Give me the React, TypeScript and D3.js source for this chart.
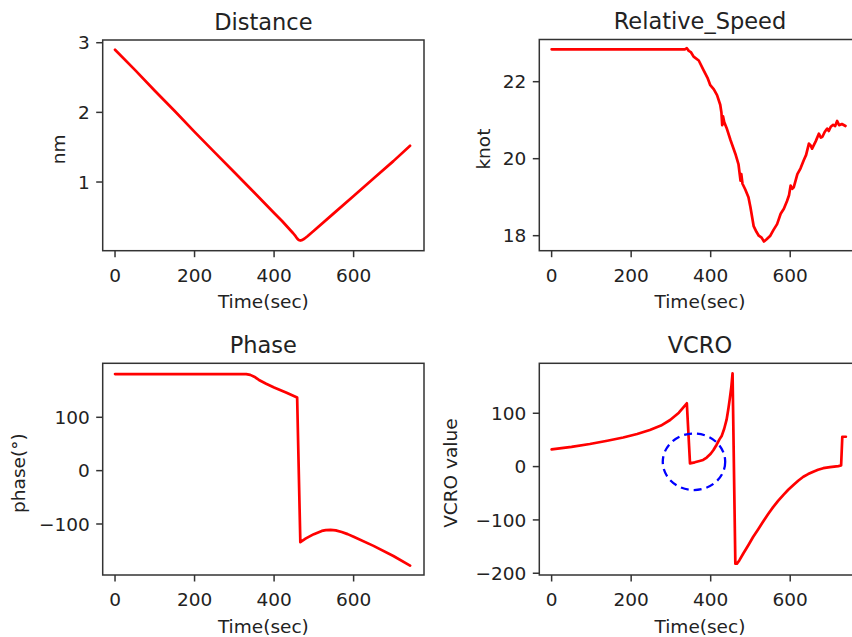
import React from "react";
import * as d3 from "d3";

// ---- data ----
const distTime = [0, 50, 100, 150, 200, 250, 300, 350, 400, 420, 440, 448, 454, 458, 462, 466, 470, 476, 484, 492, 500, 550, 600, 650, 700, 742];
const distValue = [2.9, 2.61, 2.31, 2.02, 1.72, 1.43, 1.14, 0.85, 0.556, 0.44, 0.315, 0.265, 0.222, 0.19, 0.168, 0.16, 0.165, 0.185, 0.222, 0.262, 0.3, 0.55, 0.8, 1.05, 1.3, 1.52];

const speedTime = [0, 100, 200, 300, 323, 335, 340, 345, 350, 357, 370, 382, 392, 399, 408, 416, 424, 427, 429, 431, 434, 440, 450, 462, 470, 475, 477, 480, 487, 495, 500, 508, 515, 521, 528, 534, 540, 550, 558, 567, 576, 584, 592, 597, 601, 605, 609, 618, 626, 634, 640, 647, 651, 655, 664, 672, 677, 681, 687, 693, 697, 702, 708, 713, 718, 723, 730, 739];
const speedValue = [22.84, 22.84, 22.84, 22.84, 22.84, 22.84, 22.87, 22.8, 22.77, 22.65, 22.55, 22.3, 22.1, 21.91, 21.8, 21.65, 21.4, 21.2, 20.87, 21.1, 20.95, 20.8, 20.48, 20.13, 19.85, 19.43, 19.6, 19.35, 19.2, 19.0, 18.74, 18.25, 18.1, 18.0, 17.95, 17.85, 17.9, 18.0, 18.15, 18.3, 18.57, 18.7, 18.9, 19.05, 19.3, 19.22, 19.26, 19.6, 19.75, 19.96, 20.1, 20.39, 20.35, 20.26, 20.45, 20.65, 20.55, 20.57, 20.7, 20.78, 20.72, 20.83, 20.88, 20.85, 20.98, 20.87, 20.9, 20.85];

const phaseTime = [0, 100, 200, 300, 330, 340, 350, 362, 380, 400, 430, 458, 466, 480, 500, 520, 530, 542, 555, 570, 585, 600, 650, 700, 742];
const phaseValue = [181, 181, 181, 181, 181, 179.5, 176, 170, 163, 156, 146.5, 137, -134, -127, -119, -113, -111.5, -111, -112, -115, -119, -124, -141, -160, -178];

const vcroTime = [0, 50, 96, 140, 180, 215, 247, 275, 298, 320, 340, 348, 360, 372, 381, 390, 400, 407, 415, 422, 428, 434, 440, 444, 448, 452, 455, 462, 466, 472, 482, 495, 507, 520, 532, 545, 557, 570, 583, 595, 608, 620, 633, 645, 658, 670, 683, 700, 721, 728, 731, 740];
const vcroValue = [32.4, 37, 42.4, 48.5, 54.5, 61, 68.7, 77, 87.4, 101, 118.7, 6, 8, 10.5, 12.5, 17, 24, 31, 41, 51, 58, 71, 88, 106, 127, 150, 175, -182, -182, -176, -163, -147, -131.5, -117, -103, -88.5, -76, -64, -53, -43.5, -34.5, -26.5, -19, -14, -9.5, -6, -3, -1, 1, 2, 56, 56];

const xTicks = [0, 200, 400, 600];
const distTicks = [1, 2, 3];
const speedTicks = [18, 20, 22];
const phaseTicks = [-100, 0, 100];
const vcroTicks = [-200, -100, 0, 100];

// highlighted region (data coords): center x, center y, radius x, radius y
const circleCenter = [358, 9];
const circleRadius = [78.5, 53];

const FONT = "DejaVu Sans, Verdana, sans-serif";
const TXT = "#222";
const fmt = (v: number) => (v < 0 ? "\u2212" + Math.abs(v) : String(v));

type PanelProps = {
  left: number;
  top: number;
  right: number;
  bottom: number;
  xDomain: [number, number];
  yDomain: [number, number];
  xs: number[];
  ys: number[];
  yTicks: number[];
  title: string;
  ylabel: string;
  ylabelX: number;
  children?: (x: d3.ScaleLinear<number, number>, y: d3.ScaleLinear<number, number>) => React.ReactNode;
};

function Panel(p: PanelProps) {
  const x = d3.scaleLinear().domain(p.xDomain).range([p.left, p.right]);
  const y = d3.scaleLinear().domain(p.yDomain).range([p.bottom, p.top]);
  const pts = p.xs.map((t, i) => [t, p.ys[i]] as [number, number]);
  const line = d3
    .line<[number, number]>()
    .x((d) => x(d[0]))
    .y((d) => y(d[1]))(pts);
  const cx = (p.left + p.right) / 2;
  const cy = (p.top + p.bottom) / 2;
  return (
    <g>
      <path d={line || ""} fill="none" stroke="#ff0000" strokeWidth={2.7} strokeLinejoin="round" strokeLinecap="round" />
      {p.children ? p.children(x, y) : null}
      <rect x={p.left} y={p.top} width={p.right - p.left} height={p.bottom - p.top} fill="none" stroke="#333" strokeWidth={1.5} />
      {xTicks.map((t) => (
        <g key={"x" + t}>
          <line x1={x(t)} x2={x(t)} y1={p.bottom} y2={p.bottom + 6.5} stroke="#333" strokeWidth={1.5} />
          <text x={x(t)} y={p.bottom + 31} textAnchor="middle" fontFamily={FONT} fontSize={18.5} fill={TXT}>
            {fmt(t)}
          </text>
        </g>
      ))}
      {p.yTicks.map((t) => (
        <g key={"y" + t}>
          <line x1={p.left - 6.5} x2={p.left} y1={y(t)} y2={y(t)} stroke="#333" strokeWidth={1.5} />
          <text x={p.left - 13} y={y(t)} dy="0.36em" textAnchor="end" fontFamily={FONT} fontSize={18.5} fill={TXT}>
            {fmt(t)}
          </text>
        </g>
      ))}
      <text x={cx} y={p.top - 10.5} textAnchor="middle" fontFamily={FONT} fontSize={22.5} fill={TXT}>
        {p.title}
      </text>
      <text x={cx} y={p.bottom + 57.5} textAnchor="middle" fontFamily={FONT} fontSize={18.5} fill={TXT}>
        Time(sec)
      </text>
      <text
        transform={`translate(${p.ylabelX},${cy + 4}) rotate(-90)`}
        textAnchor="middle"
        fontFamily={FONT}
        fontSize={18.5}
        fill={TXT}
      >
        {p.ylabel}
      </text>
    </g>
  );
}

export default function App() {
  const xDomain: [number, number] = [-31, 777];
  return (
    <svg
      width={852}
      height={637}
      style={{ position: "absolute", left: 0, top: 0, background: "#fff" }}
    >
      <rect x={0} y={0} width={852} height={637} fill="#fff" />
      <Panel
        left={102.7}
        right={424}
        top={40}
        bottom={250.7}
        xDomain={xDomain}
        yDomain={[0.014, 3.039]}
        xs={distTime}
        ys={distValue}
        yTicks={distTicks}
        title="Distance"
        ylabel="nm"
        ylabelX={65}
      />
      <Panel
        left={539.3}
        right={860.6}
        top={39.5}
        bottom={250.7}
        xDomain={xDomain}
        yDomain={[17.61, 23.096]}
        xs={speedTime}
        ys={speedValue}
        yTicks={speedTicks}
        title="Relative_Speed"
        ylabel="knot"
        ylabelX={490}
      />
      <Panel
        left={102.7}
        right={424}
        top={363.3}
        bottom={575}
        xDomain={xDomain}
        yDomain={[-195.6, 201.2]}
        xs={phaseTime}
        ys={phaseValue}
        yTicks={phaseTicks}
        title="Phase"
        ylabel="phase(°)"
        ylabelX={24.5}
      />
      <Panel
        left={539.3}
        right={860.6}
        top={363.3}
        bottom={575}
        xDomain={xDomain}
        yDomain={[-203.3, 193.7]}
        xs={vcroTime}
        ys={vcroValue}
        yTicks={vcroTicks}
        title="VCRO"
        ylabel="VCRO value"
        ylabelX={456.5}
      >
        {(x, y) => (
          <ellipse
            cx={x(circleCenter[0])}
            cy={y(circleCenter[1])}
            rx={x(circleCenter[0] + circleRadius[0]) - x(circleCenter[0])}
            ry={y(circleCenter[1]) - y(circleCenter[1] + circleRadius[1])}
            fill="none"
            stroke="#0000ff"
            strokeWidth={2.3}
            strokeDasharray="8,5"
          />
        )}
      </Panel>
    </svg>
  );
}
